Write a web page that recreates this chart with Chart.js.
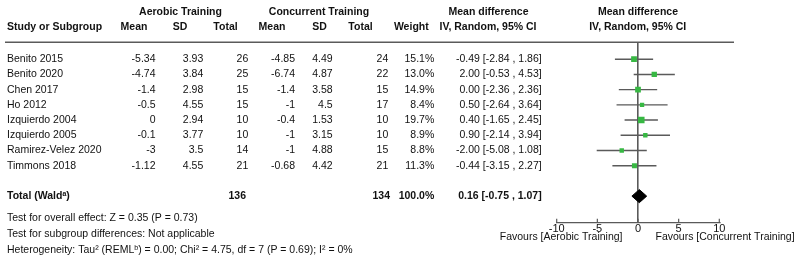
<!DOCTYPE html>
<html>
<head>
<meta charset="utf-8">
<script src="https://cdn.jsdelivr.net/npm/chart.js@4.4.1/dist/chart.umd.min.js"></script>
<style>
  html, body { margin: 0; padding: 0; background: #fff; }
  #wrap { width: 800px; height: 267px; }
</style>
</head>
<body>
<div id="wrap"><canvas id="c" width="800" height="267"></canvas></div>
<script>
// ---------- data ----------
const studies   = ["Benito 2015", "Benito 2020", "Chen 2017", "Ho 2012", "Izquierdo 2004", "Izquierdo 2005", "Ramirez-Velez 2020", "Timmons 2018"];
const aeMean    = [-5.34, -4.74, -1.4, -0.5, 0, -0.1, -3, -1.12];
const aeSD      = [3.93, 3.84, 2.98, 4.55, 2.94, 3.77, 3.5, 4.55];
const aeTotal   = [26, 25, 15, 15, 10, 10, 14, 21];
const coMean    = [-4.85, -6.74, -1.4, -1, -0.4, -1, -1, -0.68];
const coSD      = [4.49, 4.87, 3.58, 4.5, 1.53, 3.15, 4.88, 4.42];
const coTotal   = [24, 22, 15, 17, 10, 10, 15, 21];
const weights   = [15.1, 13.0, 14.9, 8.4, 19.7, 8.9, 8.8, 11.3];
const md        = [-0.49, 2.00, 0.00, 0.50, 0.40, 0.90, -2.00, -0.44];
const ciLo      = [-2.84, -0.53, -2.36, -2.64, -1.65, -2.14, -5.08, -3.15];
const ciHi      = [1.86, 4.53, 2.36, 3.64, 2.45, 3.94, 1.08, 2.27];
const totalAe   = 136;
const totalCo   = 134;
const totalWeight = 100.0;
const pooled    = [0.16, -0.75, 1.07];   // estimate, lower, upper
const xTicks    = [-10, -5, 0, 5, 10];
const footnotes = [
  "Test for overall effect: Z = 0.35 (P = 0.73)",
  "Test for subgroup differences: Not applicable",
  "Heterogeneity: Tau\u00B2 (REML\u1D47) = 0.00; Chi\u00B2 = 4.75, df = 7 (P = 0.69); I\u00B2 = 0%"
];
const favours   = ["Favours [Aerobic Training]", "Favours [Concurrent Training]"];

// ---------- derived datasets ----------
const TOTAL_ROW = 10;
const squarePts = md.map((m, i) => ({ x: m, y: i + 1 }));
const ciPts = [];
ciLo.forEach((lo, i) => {
  ciPts.push({ x: lo, y: i + 1 }, { x: ciHi[i], y: i + 1 }, { x: null, y: null });
});
const dh = 0.43;
const diamondPts = [
  { x: pooled[1], y: TOTAL_ROW },
  { x: pooled[0], y: TOTAL_ROW - dh },
  { x: pooled[2], y: TOTAL_ROW },
  { x: pooled[0], y: TOTAL_ROW + dh },
  { x: pooled[1], y: TOTAL_ROW }
];

const FONT = '"Liberation Sans", Arial, Helvetica, sans-serif';
const TXT = '#111';
const LINE = '#5a5a5a';

const tablePlugin = {
  id: 'tablePlugin',
  afterDraw(chart) {
    const ctx = chart.ctx;
    const ys = chart.scales.y, xs = chart.scales.x;
    ctx.save();
    ctx.fillStyle = TXT;
    ctx.textBaseline = 'middle';

    const t = (s, x, y, align, bold, size) => {
      ctx.font = (bold ? 'bold ' : '') + (size || 10.5) + 'px ' + FONT;
      ctx.textAlign = align;
      ctx.fillText(s, x, y);
    };

    // headers
    t("Aerobic Training", 180.5, 12, 'center', true);
    t("Concurrent Training", 319, 12, 'center', true);
    t("Mean difference", 488.5, 12, 'center', true);
    t("Mean difference", 638, 12, 'center', true);
    const h2 = 27.5;
    t("Study or Subgroup", 7, h2, 'left', true);
    t("Mean", 134, h2, 'center', true);
    t("SD", 180, h2, 'center', true);
    t("Total", 225.5, h2, 'center', true);
    t("Mean", 272, h2, 'center', true);
    t("SD", 319.5, h2, 'center', true);
    t("Total", 360.5, h2, 'center', true);
    t("Weight", 411.3, h2, 'center', true);
    t("IV, Random, 95% CI", 488, h2, 'center', true);
    t("IV, Random, 95% CI", 637.7, h2, 'center', true);

    // header rule
    ctx.strokeStyle = LINE;
    ctx.lineWidth = 1.6;
    ctx.beginPath();
    ctx.moveTo(5, 42.3);
    ctx.lineTo(734, 42.3);
    ctx.stroke();

    // rows
    studies.forEach((s, i) => {
      const y = ys.getPixelForValue(i + 1);
      t(s, 7, y, 'left', false);
      t(String(aeMean[i]), 155.5, y, 'right', false);
      t(String(aeSD[i]), 203.3, y, 'right', false);
      t(String(aeTotal[i]), 248.3, y, 'right', false);
      t(String(coMean[i]), 295, y, 'right', false);
      t(String(coSD[i]), 332.7, y, 'right', false);
      t(String(coTotal[i]), 388.3, y, 'right', false);
      t(weights[i].toFixed(1) + '%', 434.3, y, 'right', false);
      t(md[i].toFixed(2) + ' [' + ciLo[i].toFixed(2) + ' , ' + ciHi[i].toFixed(2) + ']', 541.7, y, 'right', false);
    });

    // total row
    const yt = ys.getPixelForValue(TOTAL_ROW);
    t("Total (Wald\u1D43)", 7, yt, 'left', true);
    t(String(totalAe), 246, yt, 'right', true);
    t(String(totalCo), 390, yt, 'right', true);
    t(totalWeight.toFixed(1) + '%', 434.3, yt, 'right', true);
    t(pooled[0].toFixed(2) + ' [' + pooled[1].toFixed(2) + ' , ' + pooled[2].toFixed(2) + ']', 541.7, yt, 'right', true);

    // footnotes
    [218.5, 234.3, 250].forEach((y, i) => t(footnotes[i], 7, y, 'left', false));

    // axis tick marks (inside, upward) and tick labels
    const yb = chart.chartArea.bottom;
    ctx.strokeStyle = LINE;
    ctx.lineWidth = 1.2;
    xTicks.forEach(v => {
      const px = xs.getPixelForValue(v);
      ctx.beginPath();
      ctx.moveTo(px, yb - 3.5);
      ctx.lineTo(px, yb);
      ctx.stroke();
      t(String(v), px, yb + 6.6, 'center', false, 11);
    });

    // favours labels
    const x0 = xs.getPixelForValue(0);
    t(favours[0], x0 - 15.5, 237, 'right', false);
    t(favours[1], x0 + 17.5, 237, 'left', false);

    ctx.restore();
  }
};

new Chart(document.getElementById('c'), {
  type: 'scatter',
  data: {
    datasets: [
      {
        label: 'Studies',
        data: squarePts,
        pointStyle: 'rect',
        pointRadius: weights.map(w => 1.05 * Math.sqrt(w) ),
        backgroundColor: '#37b843',
        borderWidth: 0,
        order: 0
      },
      {
        label: 'CI',
        type: 'line',
        data: ciPts,
        borderColor: LINE,
        borderWidth: 1.4,
        pointRadius: 0,
        spanGaps: false,
        fill: false,
        order: 2
      },
      {
        label: 'Pooled',
        type: 'line',
        data: diamondPts,
        borderColor: '#000',
        backgroundColor: '#000',
        borderWidth: 1,
        pointRadius: 0,
        fill: 'shape',
        tension: 0,
        order: 1
      }
    ]
  },
  options: {
    responsive: false,
    animation: false,
    devicePixelRatio: 1,
    layout: { padding: { left: 556.7, right: 80.7, top: 42.3, bottom: 44.7 } },
    plugins: { legend: { display: false }, tooltip: { enabled: false } },
    scales: {
      x: {
        type: 'linear',
        min: -10, max: 10,
        afterBuildTicks: (scale) => { scale.ticks = xTicks.map(v => ({ value: v })); },
        ticks: { display: false },
        grid: {
          color: (c) => (c.tick && c.tick.value === 0) ? LINE : 'rgba(0,0,0,0)',
          lineWidth: 1.6,
          drawTicks: false
        },
        border: { display: true, color: LINE, width: 1.2 }
      },
      y: {
        type: 'linear',
        min: -0.112, max: 11.72,
        reverse: true,
        display: false
      }
    }
  },
  plugins: [tablePlugin]
});
</script>
</body>
</html>
